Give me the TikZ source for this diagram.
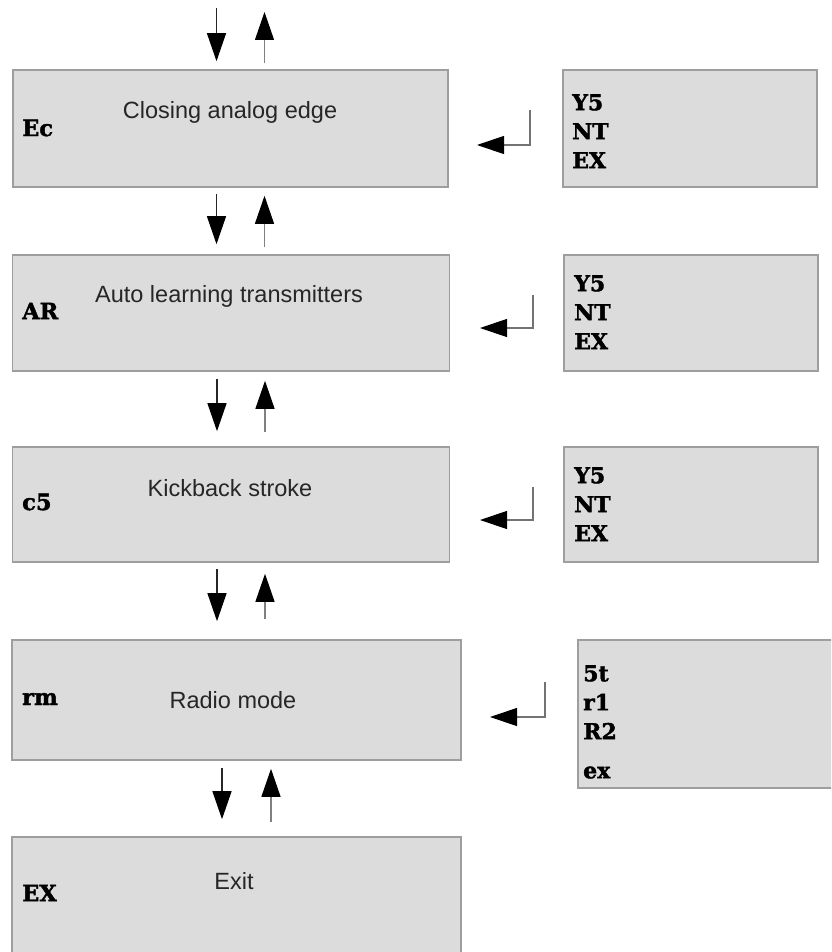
\documentclass[tikz,border=0pt]{standalone}
\usepackage{fontspec}
\usepackage{xcolor}
\usetikzlibrary{positioning, calc, arrows.meta}
\setmainfont{Liberation Sans}
\newfontfamily\codefont{DejaVu Serif}[BoldFeatures={FakeBold=1.8}]
\definecolor{boxgray}{RGB}{220,220,220}
\definecolor{edgegray}{RGB}{158,158,158}

\begin{document}
\begin{tikzpicture}[
    x=1pt, y=-1pt,
    menubox/.style={rectangle, draw=edgegray, line width=1.6pt, fill=boxgray, inner sep=0pt},
    menutitle/.style={font=\fontsize{23.5}{28}\selectfont, text=black!85},
    menucode/.style={font=\codefont\bfseries\fontsize{22.5}{26}\selectfont, anchor=west, inner sep=0pt},
    optlist/.style={font=\codefont\bfseries\fontsize{22}{29}\selectfont, anchor=north west, align=left, inner sep=0pt},
    stepdown/.style={line width=1.2pt, black!85, -{Triangle[length=28pt, width=19pt, color=black]}},
    stepup/.style={line width=1.2pt, black!50, -{Triangle[length=28pt, width=19pt, color=black]}},
    enterarrow/.style={line width=1.2pt, black!55, -{Triangle[length=27pt, width=18pt, color=black]}}
]
\clip (0,0) rectangle (831,952);

% Menu boxes
\node[menubox, minimum width=435pt, minimum height=117pt] (ec) at (230.5,128.5) {};
\node[menubox, minimum width=437pt, minimum height=116pt] (ar) at (231,313) {};
\node[menubox, minimum width=437pt, minimum height=115pt] (cs) at (231,504.5) {};
\node[menubox, minimum width=449pt, minimum height=120pt] (rm) at (236.5,700) {};
\node[menubox, minimum width=449pt, minimum height=130pt] (ex) at (236.5,902) {};

% Option boxes
\node[menubox, minimum width=254pt, minimum height=117pt] (ecopt) at (690,128.5) {};
\node[menubox, minimum width=254pt, minimum height=116pt] (aropt) at (691,313) {};
\node[menubox, minimum width=254pt, minimum height=115pt] (csopt) at (691,504.5) {};
\node[menubox, minimum width=267pt, minimum height=148pt] (rmopt) at (711.5,714) {};

% Texts
\node[menutitle] (ectitle) at (230,112) {Closing analog edge};
\node[menutitle] (artitle) at (229,296) {Auto learning transmitters};
\node[menutitle] (cstitle) at (230,488) {Kickback stroke};
\node[menutitle] (rmtitle) at (233,700) {Radio mode};
\node[menutitle] (extitle) at (234,881) {Exit};

\node[menucode] (eccode) at (22,128) {Ec};
\node[menucode] (arcode) at (22,311) {AR};
\node[menucode] (cscode) at (22,502) {c5};
\node[menucode] (rmcode) at (22,699) {rm};
\node[menucode] (excode) at (22,893) {EX};

\node[optlist] (eclist) at (572,94) {Y5\\NT\\EX};
\node[optlist] (arlist) at (574,275) {Y5\\NT\\EX};
\node[optlist] (cslist) at (574,467) {Y5\\NT\\EX};
\node[optlist] (rmlist) at (583,665) {5t\\r1\\R2\\[10pt]ex};

% Up and down arrows
\coordinate (topin) at (216.5,8);
\coordinate (topout) at (264.5,12);
\draw[stepdown] (topin) -- ($(ec.north)+(-14,-8)$);
\draw[stepup] ($(ec.north)+(34,-6)$) -- (topout);

\draw[stepdown] ($(ec.south)+(-14,6)$) -- ($(ec.south |- ar.north)+(-14,-10)$);
\draw[stepup] ($(ec.south |- ar.north)+(34,-7)$) -- ($(ec.south)+(34,8)$);

\draw[stepdown] ($(ar.south)+(-14,7)$) -- ($(ar.south |- cs.north)+(-14,-15)$);
\draw[stepup] ($(ar.south |- cs.north)+(34,-14)$) -- ($(ar.south)+(34,9)$);

\draw[stepdown] ($(cs.south)+(-14,6)$) -- ($(cs.south |- rm.north)+(-14,-18)$);
\draw[stepup] ($(cs.south |- rm.north)+(34,-20)$) -- ($(cs.south)+(34,11)$);

\draw[stepdown] ($(rm.south)+(-14.5,7)$) -- ($(rm.south |- ex.north)+(-14.5,-17)$);
\draw[stepup] ($(rm.south |- ex.north)+(34.5,-14)$) -- ($(rm.south)+(34.5,8)$);

% Enter arrows
\coordinate (ecenter) at (530,110);
\coordinate (ecback) at (477,145);
\coordinate (arenter) at (533,295);
\coordinate (arback) at (480,328);
\coordinate (csenter) at (533,487);
\coordinate (csback) at (480,520);
\coordinate (rmenter) at (545,682);
\coordinate (rmback) at (490,717);
\draw[enterarrow] (ecenter) |- (ecback);
\draw[enterarrow] (arenter) |- (arback);
\draw[enterarrow] (csenter) |- (csback);
\draw[enterarrow] (rmenter) |- (rmback);

\end{tikzpicture}
\end{document}
